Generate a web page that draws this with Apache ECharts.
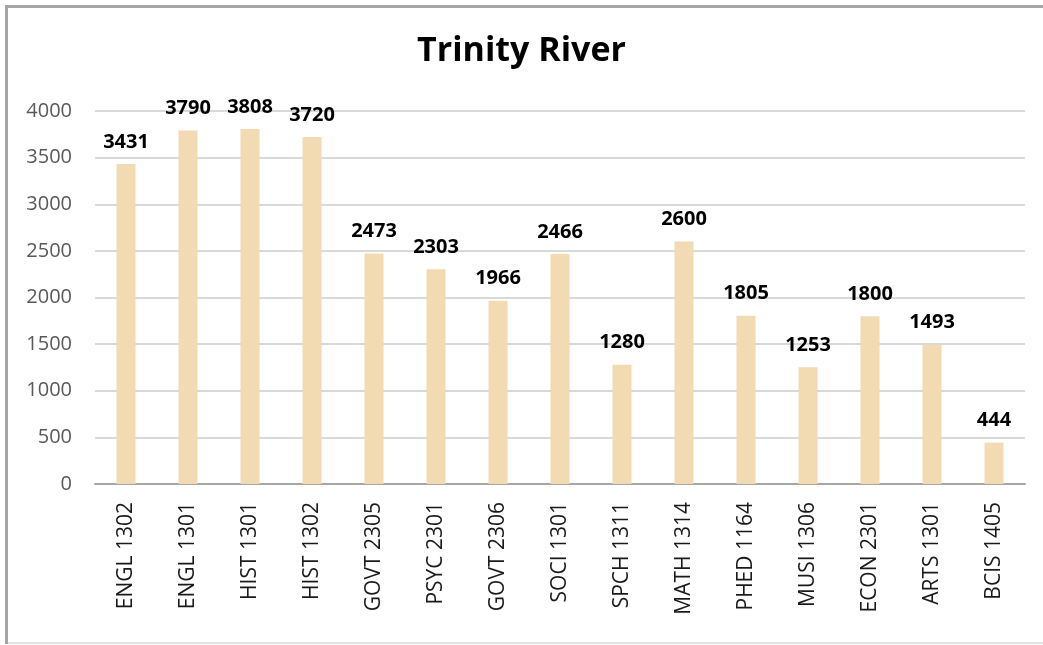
<!DOCTYPE html>
<html>
<head>
<meta charset="utf-8">
<script src="https://cdn.jsdelivr.net/npm/echarts@6/dist/echarts.min.js"></script>
<style>
  html, body { margin: 0; padding: 0; background: #fff; overflow: hidden; }
  #main { position: absolute; left: 0; top: 0; width: 1043px; height: 645px; }
</style>
</head>
<body>
<div id="main"></div>
<script>
const courses = ['ENGL 1302', 'ENGL 1301', 'HIST 1301', 'HIST 1302', 'GOVT 2305', 'PSYC 2301', 'GOVT 2306',
  'SOCI 1301', 'SPCH 1311', 'MATH 1314', 'PHED 1164', 'MUSI 1306', 'ECON 2301', 'ARTS 1301', 'BCIS 1405'];
const enrolled = [3431, 3790, 3808, 3720, 2473, 2303, 1966, 2466, 1280, 2600, 1805, 1253, 1800, 1493, 444];

const font = '"Open Sans", "Noto Sans", sans-serif';

const chart = echarts.init(document.getElementById('main'));
chart.setOption({
  animation: false,
  // outer frame of the chart box (top / left darker, bottom faint)
  graphic: [
    { type: 'line', shape: { x1: 5, y1: 6.5, x2: 1043, y2: 6.5 }, style: { stroke: '#a6a6a6', lineWidth: 3 } },
    { type: 'line', shape: { x1: 6.5, y1: 5, x2: 6.5, y2: 644 }, style: { stroke: '#a6a6a6', lineWidth: 3 } },
    { type: 'line', shape: { x1: 8, y1: 643, x2: 1043, y2: 643 }, style: { stroke: '#e3e3e3', lineWidth: 2 } }
  ],
  title: {
    text: 'Trinity River',
    left: 'center',
    top: 29,
    textStyle: { fontFamily: font, fontSize: 34, fontWeight: 'bold', color: '#000' }
  },
  grid: { left: 95, right: 18, top: 111, bottom: 161 },
  xAxis: {
    type: 'category',
    data: courses,
    axisLine: { lineStyle: { color: '#a6a6a6', width: 2 } },
    axisTick: { show: false },
    axisLabel: { rotate: 90, margin: 18, fontFamily: font, fontSize: 21, color: '#1a1a1a' }
  },
  yAxis: {
    type: 'value',
    min: 0, max: 4000, interval: 500,
    axisLine: { show: false },
    axisTick: { show: false },
    splitLine: { lineStyle: { color: '#d9d9d9', width: 2 } },
    axisLabel: { margin: 23, fontFamily: font, fontSize: 20, color: '#595959', formatter: (v) => String(v) }
  },
  series: [{
    type: 'bar',
    data: enrolled,
    barWidth: 19,
    itemStyle: { color: '#F2DAB2' },
    label: {
      show: true, position: 'top', distance: 12,
      fontFamily: font, fontSize: 20, fontWeight: 'bold', color: '#000'
    }
  }]
});
</script>
</body>
</html>
